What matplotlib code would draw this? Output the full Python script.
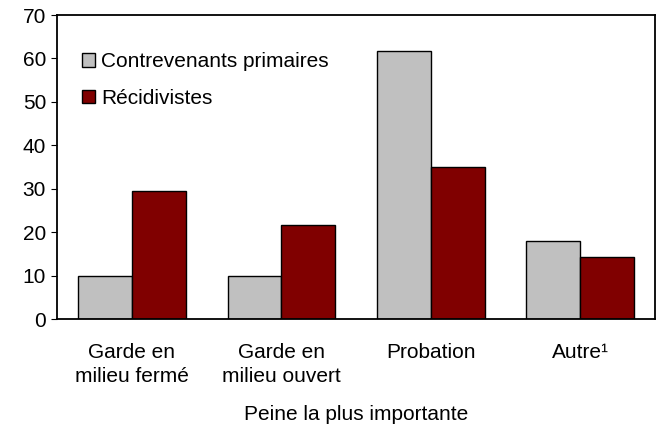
import numpy as np
import matplotlib
matplotlib.use("Agg")
import matplotlib.pyplot as plt

categories = ["Garde en\nmilieu fermé", "Garde en\nmilieu ouvert", "Probation", "Autre¹"]
primaires = [10.0, 10.0, 61.7, 17.9]
recidivistes = [29.4, 21.6, 35.0, 14.2]
yticks = [0, 10, 20, 30, 40, 50, 60, 70]

plt.rcParams['font.family'] = ['Liberation Sans', 'DejaVu Sans']
fs = 15

fig = plt.figure(figsize=(6.57, 4.29), dpi=100)
ax = fig.add_axes([0.087, 0.256, 0.910, 0.709])

x = np.arange(len(categories))
w = 0.36
ax.bar(x - w / 2, primaires, w, color='#C0C0C0', edgecolor='black', linewidth=1,
       label='Contrevenants primaires')
ax.bar(x + w / 2, recidivistes, w, color='#800000', edgecolor='black', linewidth=1,
       label='Récidivistes')

ax.set_xlim(-0.5, len(categories) - 0.5)
ax.set_ylim(0, 70)
ax.set_yticks(yticks)
ax.set_xticks(x)
ax.set_xticklabels(categories, fontsize=fs, linespacing=1.35)
ax.tick_params(axis='x', length=0, pad=17)
ax.tick_params(axis='y', labelsize=fs, length=4, direction='out', pad=4)
ax.set_xlabel('Peine la plus importante', fontsize=fs, labelpad=14)

for s in ax.spines.values():
    s.set_linewidth(1.3)

ax.legend(loc='upper left', bbox_to_anchor=(0.028, 0.905), frameon=False, fontsize=fs,
          handlelength=0.6, handleheight=0.6, handletextpad=0.3, labelspacing=0.85,
          borderaxespad=0)

plt.savefig('out.png', dpi=100)
